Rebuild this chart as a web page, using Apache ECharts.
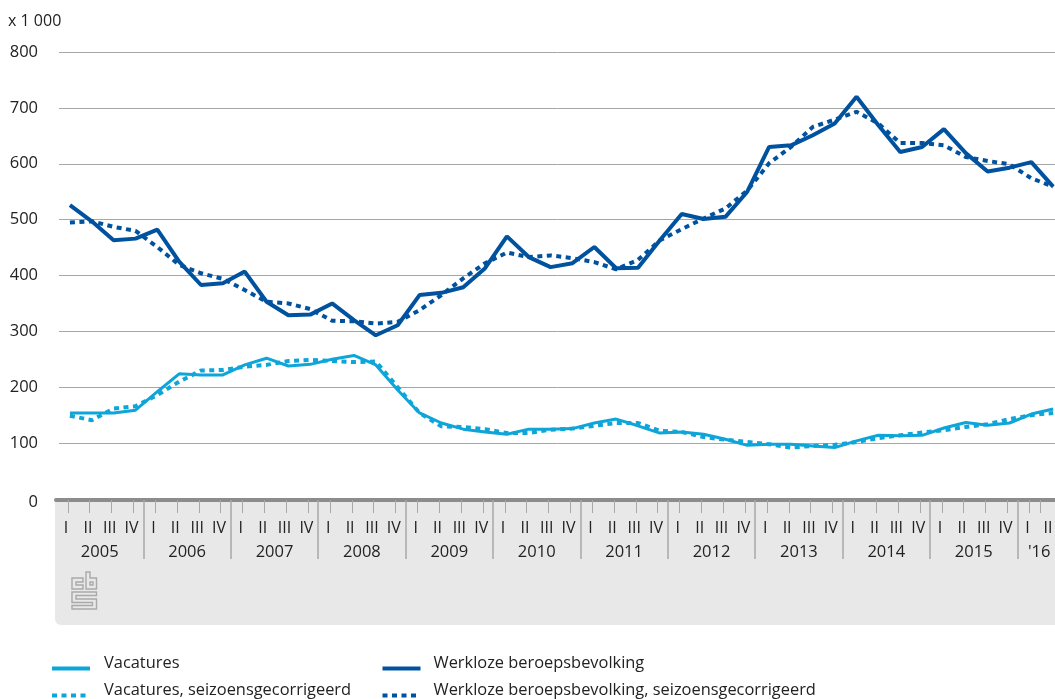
<!DOCTYPE html>
<html><head><meta charset="utf-8">
<script src="https://cdn.jsdelivr.net/npm/echarts@6/dist/echarts.min.js"></script>
<style>html,body{margin:0;padding:0;background:#fff}#c{width:1055px;height:699px}</style>
</head><body><div id="c"></div>
<script>
const years = ['2005','2006','2007','2008','2009','2010','2011','2012','2013','2014','2015',"'16"];
const quarterNames = ['I','II','III','IV'];
const quarters = [];
years.forEach((y,i)=>{ (i===11?quarterNames.slice(0,2):quarterNames).forEach(q=>quarters.push(q)); });
const categories = quarters.map((q,i)=>i);

const vacatures = [154,154,154,159,192,224,222,222,240,252,238,241,250,257,240,195,154,136,125,120,116,125,125,126,136,143,131,118,120,116,107,96,98,98,95,92,104,114,113,114,127,137,132,136,152,161];
const vacaturesSA = [149,141,162,166,186,210,230,231,237,240,247,249,247,245,246,200,154,130,129,125,118,118,124,126,131,136,136,122,120,111,106,102,98,92,95,97,102,109,114,119,123,129,134,143,150,154];
const werkloos = [526,497,463,466,482,425,383,386,407,353,329,330,350,320,293,311,365,369,379,413,470,433,415,422,451,413,414,463,510,501,505,550,630,633,651,672,720,669,621,630,662,619,586,593,603,559];
const werkloosSA = [495,497,487,480,451,419,404,394,374,353,350,340,319,318,314,317,338,365,395,422,441,433,436,431,424,411,428,463,483,502,520,552,601,630,666,679,693,672,637,637,633,612,605,599,574,559];

const yearSeparators = [4,8,12,16,20,24,28,32,36,40,44];
const yearLabelPos = [2,6,10,14,18,22,26,30,34,38,42,45];
const quarterTickPos = quarters.map((q,i)=> i===45 ? 45.05 : i+0.54);
const quarterLabelPos = quarters.map((q,i)=> i===45 ? 45.4 : i+0.46);
const legendNames = ['Vacatures','Vacatures, seizoensgecorrigeerd','Werkloze beroepsbevolking','Werkloze beroepsbevolking, seizoensgecorrigeerd'];

const FONT = '"Open Sans"';
const TXT = '#222';
const DARK = '#00529f', LIGHT = '#0ea5d9';
const DASH = [5,4.5];
const chart = echarts.init(document.getElementById('c'), null, {renderer:'canvas'});
const LOGO = '#a9a9a9';
const logoPolys = [
 [[83,578],[72,578],[72,589],[83,589],[83,585],[76,585],[76,582],[83,582]],
 [[86,572],[90,572],[90,578],[96.5,578],[96.5,589],[86,589]],
 [[90,582],[93,582],[93,585],[90,585]],
 [[72,592],[96.5,592],[96.5,595.5],[76,595.5],[76,599],[96.5,599],[96.5,609],[72,609],[72,605.5],[92.5,605.5],[92.5,602.5],[72,602.5]]
];
function legendAt(name,left,top,gap){
 return {left,top,padding:0,itemWidth:38,itemHeight:14,data:[name],itemStyle:{opacity:0},lineStyle:{width:4},
  formatter:n=>'{a|'+n+'}',
  textStyle:{fontFamily:FONT,fontSize:16.4,color:TXT,
    rich:{a:{fontFamily:FONT,fontSize:16.4,color:TXT,padding:[0,0,10,gap]}}}};
}
chart.setOption({
 animation:false,
 backgroundColor:'#fff',
 textStyle:{fontFamily:FONT},
 title:{text:'x 1 000',left:8,top:13,padding:0,textStyle:{fontFamily:FONT,fontSize:16,fontWeight:'normal',color:TXT}},
 grid:[
  {left:59,top:52,width:46*21.85,height:447,outerBoundsMode:'none'},
  {left:56,top:499,width:46*21.85,height:1,outerBoundsMode:'none'}
 ],
 xAxis:[
  {gridIndex:0,type:'category',data:categories,boundaryGap:true,show:false},
  {gridIndex:1,type:'value',min:0,max:46,position:'bottom',
   axisLine:{show:true,onZero:false,lineStyle:{color:'#8c8c8c',width:4}},
   axisTick:{show:true,customValues:quarterTickPos,length:13,lineStyle:{color:'#a8a8a8',width:1}},
   axisLabel:{show:true,customValues:quarterLabelPos,margin:20,fontFamily:FONT,fontSize:16,color:TXT,hideOverlap:false,
     formatter:v=>quarters[Math.floor(v)]},
   splitLine:{show:false}},
  {gridIndex:1,type:'value',min:0,max:46,position:'bottom',
   axisLine:{show:false},
   axisTick:{show:true,customValues:yearSeparators,length:59,lineStyle:{color:'#a8a8a8',width:1.5}},
   axisLabel:{show:true,customValues:yearLabelPos,margin:44,fontFamily:FONT,fontSize:16.5,color:TXT,hideOverlap:false,
     formatter:v=>years[yearLabelPos.indexOf(v)]},
   splitLine:{show:false}}
 ],
 yAxis:[
  {gridIndex:0,type:'value',min:0,max:800,interval:100,
   axisLine:{show:false},axisTick:{show:false},
   axisLabel:{margin:21,fontFamily:FONT,fontSize:16.5,color:TXT,
     formatter:v=>v===0?'{z|0}':String(v),
     rich:{z:{fontFamily:FONT,fontSize:16.5,color:TXT,padding:[6,0,0,0]}}},
   splitLine:{show:true,lineStyle:{color:'#a6a6a6',width:1}}},
  {gridIndex:1,type:'value',min:0,max:1,show:false}
 ],
 legend:[
  legendAt(legendNames[0],50,655.5,9),
  legendAt(legendNames[1],50,682.5,9),
  legendAt(legendNames[2],380.5,655.5,8),
  legendAt(legendNames[3],380.5,682.5,8)
 ],
 graphic:[
  {type:'rect',z:-10,silent:true,shape:{x:55,y:498,width:1010,height:127,r:[0,0,0,6]},style:{fill:'#e8e8e8'}},
  ...logoPolys.map(p=>({type:'polygon',z:-5,silent:true,shape:{points:p},
     style:{fill:'none',stroke:LOGO,lineWidth:1.4}}))
 ],
 series:[
  {name:legendNames[0],type:'line',data:vacatures,symbol:'none',z:3,lineStyle:{color:LIGHT,width:3},itemStyle:{color:LIGHT}},
  {name:legendNames[1],type:'line',data:vacaturesSA,symbol:'none',z:3,lineStyle:{color:LIGHT,width:4,type:DASH},itemStyle:{color:LIGHT}},
  {name:legendNames[2],type:'line',data:werkloos,symbol:'none',z:3,lineStyle:{color:DARK,width:4},itemStyle:{color:DARK}},
  {name:legendNames[3],type:'line',data:werkloosSA,symbol:'none',z:3,lineStyle:{color:DARK,width:4,type:DASH},itemStyle:{color:DARK}}
 ]
});
</script></body></html>
